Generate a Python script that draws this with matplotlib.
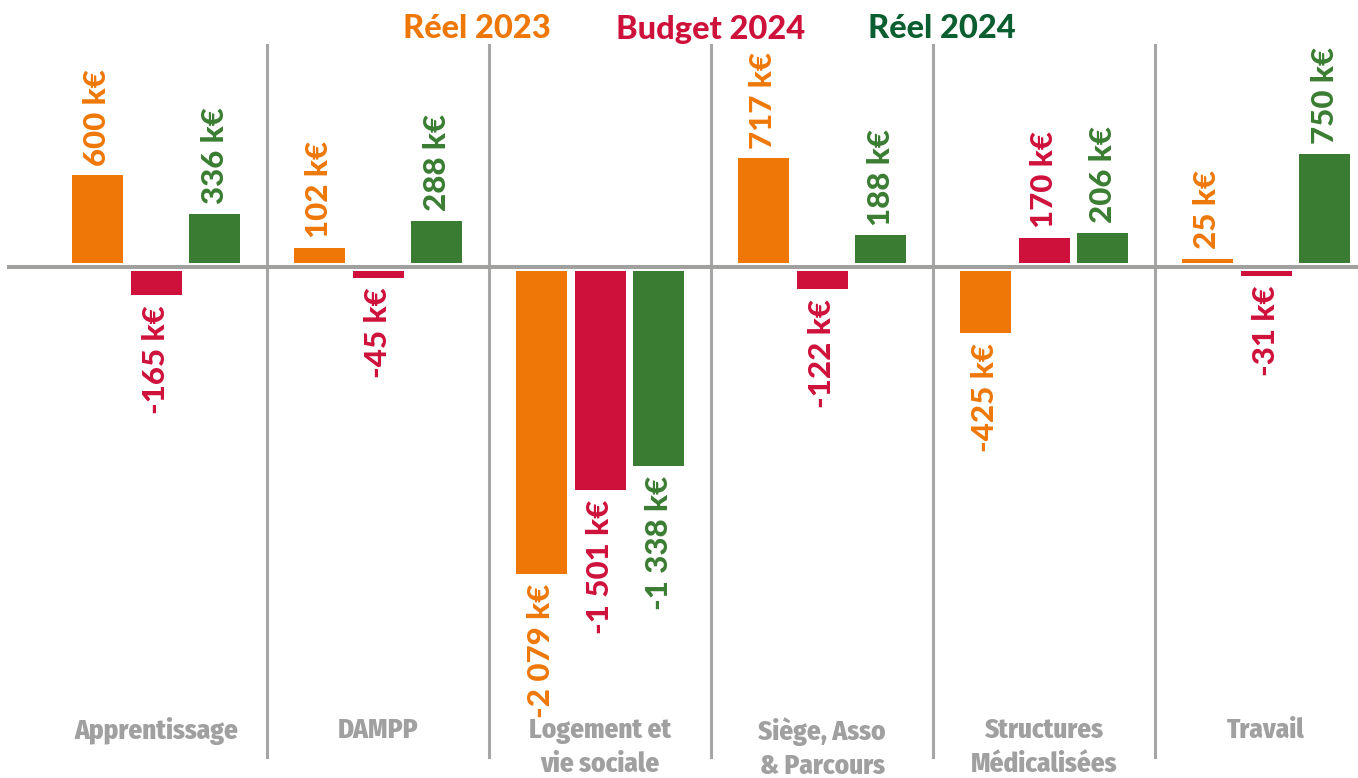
import numpy as np
import matplotlib
matplotlib.use("Agg")
import matplotlib.pyplot as plt

categories = ["Apprentissage", "DAMPP", "Logement et\nvie sociale",
              "Siège, Asso\n& Parcours", "Structures\nMédicalisées", "Travail"]
series_names = ["Réel 2023", "Budget 2024", "Réel 2024"]
reel_2023 = [600, 102, -2079, 717, -425, 25]
budget_2024 = [-165, -45, -1501, -122, 170, -31]
reel_2024 = [336, 288, -1338, 188, 206, 750]

bar_colors = ["#EE7707", "#CE113B", "#3A7D32"]
legend_colors = ["#EE7707", "#CE113B", "#0A5E2F"]
gray_line = "#A0A09F"
cat_gray = "#A0A0A0"

VAL_FONT = ["Lato", "DejaVu Sans"]
CAT_FONT = ["Fira Sans Condensed", "DejaVu Sans"]


def fmt(v):
    s = f"{abs(v):,}".replace(",", " ")
    return ("-" if v < 0 else "") + s + " k€"


fig = plt.figure(figsize=(13.58, 7.78), dpi=100)
ax = fig.add_axes([0, 0, 1, 1])
ax.set_axis_off()

n = len(categories)
x = np.arange(n)
width = 0.23
step = 0.264
gap = 30

series = [reel_2023, budget_2024, reel_2024]
for k, vals in enumerate(series):
    xs = x + (k - 1) * step
    vals = np.array(vals)
    bottoms = np.where(vals >= 0, gap, -gap)
    ax.bar(xs, vals, width=width, bottom=bottoms, color=bar_colors[k], zorder=2)
    for xi, v, b in zip(xs, vals, bottoms):
        end = v + b
        ax.annotate(fmt(int(v)), (xi, end), xytext=(0, 7 if v >= 0 else -7),
                    textcoords="offset points", rotation=90, ha="center",
                    va="bottom" if v >= 0 else "top", color=bar_colors[k],
                    fontsize=22.5, fontweight=900, family=VAL_FONT, zorder=3)

ax.set_xlim(-0.703, 5.414)
ax.set_ylim(-3512, 1835)

ax.axhline(0, xmin=9 / 1358, xmax=1, color=gray_line, lw=2.9, zorder=4)
for i in range(n - 1):
    ax.axvline(i + 0.5, ymin=1 - 757 / 778, ymax=1 - 45 / 778, color="#A6A6A6", lw=2.2, zorder=1)

for i, c in enumerate(categories):
    ax.text(i, 1 - 717 / 778, c, transform=ax.get_xaxis_transform(), ha="center", va="top",
            fontsize=19.5, fontweight=800, family=CAT_FONT, color=cat_gray, linespacing=1.35)

leg_x = [477, 711, 942]
for name, col, lx in zip(series_names, legend_colors, leg_x):
    fig.text(lx / 1358, 1 - 29 / 778, name, ha="center", va="center", color=col,
             fontsize=23.5, fontweight=900, family=VAL_FONT)

fig.savefig("out.png", dpi=100)
